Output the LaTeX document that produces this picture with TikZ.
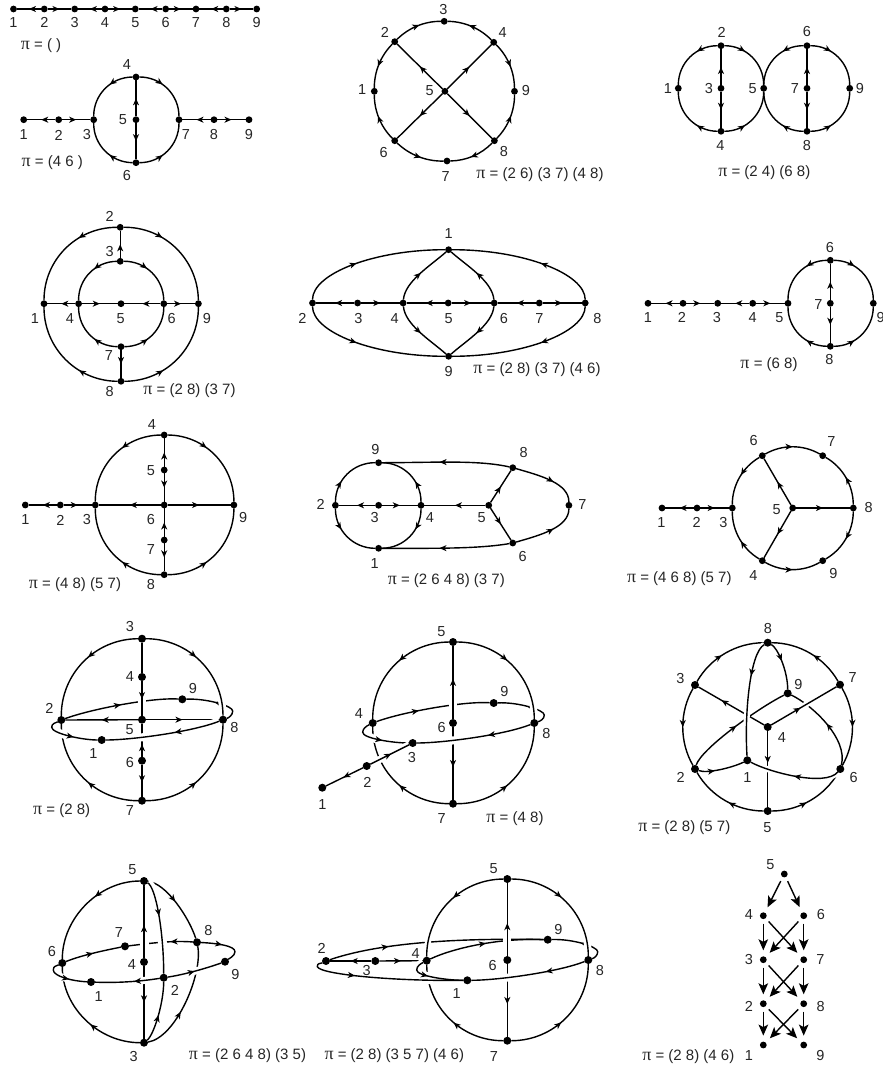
\documentclass[tikz,border=0pt]{standalone}
\usepackage{fontspec}
\setmainfont{Liberation Sans}
\newfontfamily\pisym[Scale=1.2]{Liberation Serif}
\usetikzlibrary{arrows.meta,decorations.markings}
\pgfdeclarelayer{edges}
\pgfsetlayers{edges,main}
\def\dsz{6.8pt}
\tikzset{
 dot/.style={circle,fill=black,inner sep=0pt,outer sep=0pt,minimum size=\dsz},
 lab/.style={inner sep=0pt,font=\fontsize{14.5}{16}\selectfont,text=black!85},
 plab/.style={inner sep=0pt,font=\fontsize{15}{17}\selectfont,text=black!85},
 ed/.style={line width=1.4pt,black},
 am/.style={postaction={decorate,decoration={markings,mark=at position #1 with {\arrow{Stealth[length=7pt,width=6pt,inset=2pt]}}}}},
 halo/.style={preaction={draw=white,line width=#1}},
 wipe/.style={draw=white,line width=#1},
 cw/.style={bend left=45},
 ccw/.style={bend right=45},
 cwa/.style={bend left=22.5,looseness=.885},
 ccwa/.style={bend right=22.5,looseness=.885},
 cwb/.style={bend left=30,looseness=.91},
 ccwb/.style={bend right=30,looseness=.91},
}
\newcommand\gV[6]{\node[dot] (#1) at (#2,#3) {}; \node[lab] (#1L) at (#4,#5) {#6};}
\newcommand\gP[4]{\node[plab] (#1) at (#2,#3) {{\pisym π} = #4};}
\newcommand\gS[3][.5]{\draw[ed,am=#1] (#2) -- (#3);}
\newcommand\gA[4][.4]{\draw[ed,am=#1] (#2) to[#4] (#3);}
\newcommand\gC[5][.5]{\draw[ed,am=#1] (#2) .. controls +(#3) and +(#4) .. (#5);}
\newcommand\gT[2]{\draw[ed,-{Stealth[length=11pt,width=9.5pt,inset=2.5pt]},shorten <=4.5pt,shorten >=6pt] (#1) -- (#2);}
\begin{document}
\begin{tikzpicture}[x=1pt,y=-1pt]
\useasboundingbox (0,0) rectangle (883,1068);
\begin{pgfonlayer}{edges}\fill[white] (0,0) rectangle (883,1068);\end{pgfonlayer}
% D1
\gV{a1}{13.5}{9}{13.5}{22.7}{1}\gV{a2}{44.3}{9}{44.3}{22.7}{2}\gV{a3}{74.7}{9}{74.7}{22.7}{3}
\gV{a4}{105}{9}{105}{22.7}{4}\gV{a5}{135.3}{9}{135.3}{22.7}{5}\gV{a6}{165.7}{9}{165.7}{22.7}{6}
\gV{a7}{196}{9}{196}{22.7}{7}\gV{a8}{226.3}{9}{226.3}{22.7}{8}\gV{a9}{256.7}{9}{256.7}{22.7}{9}
\gP{aP}{41}{46}{( )}
% D2
\gV{b1}{23.7}{119.7}{23.7}{135}{1}\gV{b2}{58.7}{119.7}{58.7}{135}{2}\gV{b3}{93.7}{119.7}{87}{135}{3}
\gV{b4}{136}{77}{127}{65}{4}\gV{b5}{136}{119.7}{123}{120}{5}\gV{b6}{136}{162.7}{127}{176}{6}
\gV{b7}{179}{119.7}{186}{135}{7}\gV{b8}{214}{119.7}{214}{135}{8}\gV{b9}{249}{119.7}{249}{135}{9}
\gP{bP}{52.3}{163}{(4 6 )}
% D3
\gV{c1}{374.3}{91.3}{362.2}{90}{1}\gV{c2}{394.7}{41.7}{385}{32.3}{2}\gV{c3}{444.2}{21.3}{443.5}{9.7}{3}
\gV{c4}{493.7}{42.3}{502.7}{32.3}{4}\gV{c5}{444.9}{91.3}{429.7}{91}{5}\gV{c6}{394.7}{140.7}{383.6}{152.3}{6}
\gV{c7}{447}{161}{445.6}{176.7}{7}\gV{c8}{494.4}{140.7}{503.8}{152}{8}\gV{c9}{514.5}{91.3}{526}{91}{9}
\gP{cP}{540}{174.7}{(2 6) (3 7) (4 8)}
% D4
\gV{d1}{678.3}{88.3}{668}{88.7}{1}\gV{d2}{721}{45.7}{721.7}{32}{2}\gV{d3}{721}{88.3}{709}{89}{3}
\gV{d4}{721}{131.3}{720.3}{146}{4}\gV{d5}{763.7}{88.3}{752.7}{89}{5}\gV{d6}{807}{45.7}{807}{32}{6}
\gV{d7}{807}{88.3}{795}{89}{7}\gV{d8}{807}{131.3}{807}{146}{8}\gV{d9}{849.7}{88.3}{860}{89}{9}
\gP{dP}{764.3}{173}{(2 4) (6 8)}
% D5
\gV{e1}{44}{303.7}{35}{318.3}{1}\gV{e2}{120.2}{227.3}{109.7}{216}{2}\gV{e3}{120.2}{261.3}{109.7}{251.7}{3}
\gV{e4}{78.6}{303.7}{70}{318.3}{4}\gV{e5}{121}{303.7}{120.6}{318.3}{5}\gV{e6}{163.8}{303.7}{171.6}{318.3}{6}
\gV{e7}{121}{346.7}{109}{356}{7}\gV{e8}{121}{381.3}{109.7}{391.7}{8}\gV{e9}{198.4}{303.7}{207}{318.3}{9}
\gP{eP}{189.5}{391}{(2 8) (3 7)}
% D6
\gV{f1}{448.6}{249.7}{448.6}{233.3}{1}\gV{f2}{312.5}{303}{302.3}{318.3}{2}\gV{f3}{357.6}{303}{358.4}{318.3}{3}
\gV{f4}{403.1}{303}{394.6}{318.3}{4}\gV{f5}{448.2}{303}{448.6}{318.3}{5}\gV{f6}{494.2}{303}{503.9}{318.3}{6}
\gV{f7}{539.3}{303}{539.3}{318.3}{7}\gV{f8}{585.2}{303}{597.3}{318.3}{8}\gV{f9}{448.6}{356.3}{448.6}{371.7}{9}
\gP{fP}{537}{370}{(2 8) (3 7) (4 6)}
% D7
\gV{g1}{648}{303.3}{648}{317.7}{1}\gV{g2}{683}{303.3}{682}{317.7}{2}\gV{g3}{717.7}{303.3}{717}{317.7}{3}
\gV{g4}{752.7}{303.3}{752.7}{317.7}{4}\gV{g5}{788}{303.3}{779.3}{317.7}{5}\gV{g6}{830.3}{260.3}{830}{247.3}{6}
\gV{g7}{830.3}{303.3}{818.3}{304.7}{7}\gV{g8}{830.3}{346.3}{829.3}{360}{8}\gV{g9}{873.3}{303.3}{880.7}{317.3}{9}
\gP{gP}{769}{365}{(6 8)}
% D8
\gV{h1}{25.3}{505}{25.3}{520}{1}\gV{h2}{60.3}{505}{60.3}{520}{2}\gV{h3}{95.3}{505}{86.8}{520}{3}
\gV{h4}{164.2}{435}{151.8}{424.3}{4}\gV{h5}{164.2}{470}{151}{471}{5}\gV{h6}{164.2}{505}{151}{520}{6}
\gV{h7}{164.2}{540}{151}{549.3}{7}\gV{h8}{164.2}{574.7}{151}{584.3}{8}\gV{h9}{233.9}{505}{243.2}{517.3}{9}
\gP{hP}{75}{584.3}{(4 8) (5 7)}
% D9
\gV{i1}{378.6}{548.3}{374.7}{563.3}{1}\gV{i2}{335.4}{505.3}{320.6}{504.3}{2}\gV{i3}{378.6}{505.3}{374.7}{517.3}{3}
\gV{i4}{421}{505.3}{430}{517.3}{4}\gV{i5}{488.7}{505.3}{481.7}{517.3}{5}\gV{i6}{512.8}{543}{522.6}{556.7}{6}
\gV{i7}{568.9}{505.3}{582.5}{504.3}{7}\gV{i8}{512.8}{467.7}{523.7}{452.7}{8}\gV{i9}{378.6}{462.7}{375.5}{450}{9}
\gP{iP}{446.3}{581}{(2 6 4 8) (3 7)}
% D11
\gV{j1}{662}{508}{661.3}{522.3}{1}\gV{j2}{697}{508}{696.7}{522.3}{2}\gV{j3}{732.3}{508}{723.3}{522.3}{3}
\gV{j4}{762.3}{560.7}{753.3}{575.3}{4}\gV{j5}{792.7}{508}{776.7}{509.3}{5}\gV{j6}{762.3}{455.7}{753.7}{441}{6}
\gV{j7}{822.7}{455.7}{831.3}{441.7}{7}\gV{j8}{853.3}{508}{868.7}{508}{8}\gV{j9}{822.7}{560.7}{833.3}{573.3}{9}
\gP{jP}{679.3}{578.7}{(4 6 8) (5 7)}
\def\dsz{8pt}
% D12
\gV{k1}{101.7}{740}{93.3}{754}{1}\gV{k2}{61.3}{720}{49.3}{708.7}{2}\gV{k3}{142}{638.7}{130}{626.7}{3}
\gV{k4}{142}{677}{130}{677}{4}\gV{k5}{142}{719.7}{129.7}{729.7}{5}\gV{k6}{142}{760.7}{130}{762.7}{6}
\gV{k7}{142}{800.7}{130}{810.7}{7}\gV{k8}{223}{719.7}{234.3}{727.7}{8}\gV{k9}{182.3}{699.3}{193}{688.7}{9}
\gP{kP}{61.7}{811}{(2 8)}
% D13
\gV{m1}{322.3}{787.7}{322.3}{805}{1}\gV{m2}{366.7}{766}{367.3}{782}{2}\gV{m3}{412.7}{743}{412}{757.3}{3}
\gV{m4}{372.7}{723}{359}{714}{4}\gV{m5}{453}{642}{441.3}{631.3}{5}\gV{m6}{453}{723}{441.7}{727.7}{6}
\gV{m7}{453}{803.7}{441.7}{819}{7}\gV{m8}{534.3}{723}{546.3}{733}{8}\gV{m9}{493.7}{703}{504.3}{691}{9}
\gP{mP}{515}{819}{(4 8)}
% D14
\gV{n1}{747.3}{760.3}{747.3}{777.3}{1}\gV{n2}{695}{769}{680.7}{777.3}{2}\gV{n3}{695}{685}{680.3}{678.3}{3}
\gV{n4}{767.7}{727}{782}{737.3}{4}\gV{n5}{767.7}{811}{767.3}{827.3}{5}\gV{n6}{840.3}{769}{853.7}{777}{6}
\gV{n7}{840}{684.7}{852.7}{677.7}{7}\gV{n8}{767.7}{642.7}{768}{628.3}{8}\gV{n9}{787.7}{693.3}{798.3}{684.7}{9}
\gP{nP}{684.3}{827.3}{(2 8) (5 7)}
% D15
\gV{o1}{91}{982}{98.7}{996.7}{1}\gV{o2}{163.7}{977.7}{175}{990}{2}\gV{o3}{144}{1042.7}{133.7}{1056.3}{3}
\gV{o4}{144}{962}{132}{965}{4}\gV{o5}{144}{881}{132.3}{869.3}{5}\gV{o6}{62.3}{963}{52}{951}{6}
\gV{o7}{125}{946.3}{119}{932.7}{7}\gV{o8}{197}{942.3}{208.3}{930}{8}\gV{o9}{225}{961.7}{235.3}{974}{9}
\gP{oP}{247.5}{1055.7}{(2 6 4 8) (3 5)}
% D16
\gV{p1}{467.3}{980.3}{456.7}{993.3}{1}\gV{p2}{326}{961}{321.7}{948.7}{2}\gV{p3}{375.3}{961}{366.7}{970.7}{3}
\gV{p4}{426.7}{960.7}{415.7}{953.3}{4}\gV{p5}{507.3}{879}{493.7}{868.3}{5}\gV{p6}{507.3}{960}{492.7}{965}{6}
\gV{p7}{507.3}{1040.7}{494}{1056}{7}\gV{p8}{588.3}{960}{600}{970}{8}\gV{p9}{547.7}{939.7}{558.3}{929}{9}
\gP{pP}{394.3}{1055.7}{(2 8) (3 5 7) (4 6)}
\def\dsz{6.8pt}
% D17
\gV{q1}{763.3}{1045}{749}{1055.7}{1}\gV{q2}{763.3}{1003.7}{749}{1006.7}{2}\gV{q3}{763.3}{959.7}{749}{959.7}{3}
\gV{q4}{763.3}{915.7}{749}{914.7}{4}\gV{q5}{784.3}{874}{770.3}{864.7}{5}\gV{q6}{803.7}{915.7}{821}{914}{6}
\gV{q7}{803.7}{959.7}{820.3}{959.7}{7}\gV{q8}{803.7}{1003.7}{820.7}{1006.7}{8}\gV{q9}{803.7}{1045}{820.3}{1055.7}{9}
\gP{qP}{688.3}{1056.7}{(2 8) (4 6)}

\begin{pgfonlayer}{edges}
% D1 edges
\gS{a2}{a1}\gS{a2}{a3}\gS{a4}{a3}\gS{a4}{a5}\gS{a6}{a5}\gS{a6}{a7}\gS{a8}{a7}\gS{a8}{a9}
% D2 edges
\gS{b2}{b1}\gS{b2}{b3}\gS{b8}{b7}\gS{b8}{b9}\gS{b5}{b4}\gS{b5}{b6}
\gA{b4}{b3}{ccw}\gA{b4}{b7}{cw}\gA{b6}{b3}{cw}\gA{b6}{b7}{ccw}
% D3 edges
\gA[.55]{c2}{c1}{ccwa}\gA[.55]{c2}{c3}{cwa}\gA[.55]{c4}{c3}{ccwa}\gA[.55]{c4}{c9}{cwa}
\gA[.55]{c6}{c1}{cwa}\gA[.55]{c6}{c7}{ccwa}\gA[.55]{c8}{c7}{cwa}\gA[.55]{c8}{c9}{ccwa}
\gS{c5}{c2}\gS{c5}{c4}\gS{c5}{c6}\gS{c5}{c8}
% D4 edges
\gA[.35]{d2}{d1}{ccw}\gA[.35]{d2}{d5}{cw}\gA[.35]{d4}{d1}{cw}\gA[.35]{d4}{d5}{ccw}
\gA[.35]{d6}{d5}{ccw}\gA[.35]{d6}{d9}{cw}\gA[.35]{d8}{d5}{cw}\gA[.35]{d8}{d9}{ccw}
\gS{d3}{d2}\gS{d3}{d4}\gS{d7}{d6}\gS{d7}{d8}
% D5 edges
\gA[.35]{e2}{e1}{ccw}\gA[.35]{e2}{e9}{cw}\gA[.35]{e8}{e1}{cw}\gA[.35]{e8}{e9}{ccw}
\gA{e3}{e4}{ccw}\gA{e3}{e6}{cw}\gA{e7}{e4}{cw}\gA{e7}{e6}{ccw}
\gS{e3}{e2}\gS{e7}{e8}\gS{e4}{e1}\gS{e4}{e5}\gS{e6}{e5}\gS{e6}{e9}
% D6 edges
\gS{f3}{f2}\gS{f3}{f4}\gS{f5}{f4}\gS{f5}{f6}\gS{f7}{f6}\gS{f7}{f8}
\gC[.4]{f2}{0,-29.3}{-75,0}{f1}\gC[.4]{f2}{0,29.3}{-75,0}{f9}
\gC[.4]{f8}{0,-29.3}{75,0}{f1}\gC[.4]{f8}{0,29.3}{75,0}{f9}
\gC{f4}{2,-22}{-18,16}{f1}\gC{f6}{-2,-22}{18,16}{f1}\gC{f4}{2,22}{-18,-16}{f9}\gC{f6}{-2,22}{18,-16}{f9}
% D7 edges
\gS{g2}{g1}\gS{g2}{g3}\gS{g4}{g3}\gS{g4}{g5}\gS{g7}{g6}\gS{g7}{g8}
\gA[.35]{g6}{g5}{ccw}\gA[.35]{g6}{g9}{cw}\gA[.35]{g8}{g5}{cw}\gA[.35]{g8}{g9}{ccw}
% D8 edges
\gS{h2}{h1}\gS{h2}{h3}\gS{h6}{h3}\gS{h6}{h9}\gS{h5}{h4}\gS{h5}{h6}\gS{h7}{h6}\gS{h7}{h8}
\gA{h4}{h3}{ccw}\gA{h4}{h9}{cw}\gA{h8}{h3}{cw}\gA{h8}{h9}{ccw}
% D9 edges
\gS{i3}{i2}\gS{i3}{i4}\gS{i5}{i4}\gS{i5}{i8}\gS{i5}{i6}
\gA[.35]{i2}{i9}{cw}\gA[.35]{i4}{i9}{ccw}\gA[.35]{i2}{i1}{ccw}\gA[.35]{i4}{i1}{cw}
\gC[.55]{i8}{-35,-8}{55,0}{i9}\gC[.55]{i6}{-35,6}{55,0}{i1}
\gC[.6]{i8}{28,8}{0,-22}{i7}\gC[.6]{i6}{28,-8}{0,22}{i7}
% D11 edges
\gS{j2}{j1}\gS{j2}{j3}\gS{j5}{j6}\gS{j5}{j8}\gS{j5}{j4}
\gA[.45]{j6}{j3}{ccwb}\gA[.45]{j4}{j3}{cwb}\gA[.5]{j6}{j7}{cwb}\gA[.5]{j8}{j7}{ccwb}\gA[.5]{j8}{j9}{cwb}\gA[.5]{j4}{j9}{ccwb}
% D12 edges
\gC[.5]{k2}{30,-11}{-30,-2}{k9}
\draw[ed,am=.52] (k8) .. controls +(6,-2) and +(0,4) .. (232.7,711) .. controls +(0,-5) and +(25,-1) .. (k9);
\draw[ed] (k3) -- (k4);
\draw[ed,halo=8pt,am=.52] (k4) -- (k5);
\draw[ed,halo=7pt,am=.45] (k3) to[cw] (k8);
\gA[.45]{k3}{k2}{ccw}\gA[.45]{k7}{k2}{cw}\gA[.45]{k7}{k8}{ccw}
\gS{k5}{k2}\gS{k5}{k8}
\gS[.38]{k6}{k5}\gS[.55]{k6}{k7}
\draw[ed,halo=8pt,am=.58] (k2) .. controls +(-6,3) and +(0,-4) .. (51.7,727.3) .. controls +(0,6) and +(-20,0) .. (k1);
\draw[ed,halo=8pt,am=.4] (k8) .. controls +(-30,12) and +(30,0) .. (k1);
% D13 edges
\gC[.38]{m4}{30,-11}{-30,-2}{m9}
\draw[ed,am=.5] (m8) .. controls +(6,-2) and +(0,4) .. (544.3,715) .. controls +(0,-5) and +(25,-1) .. (m9);
\draw[ed,halo=7pt,am=.45] (m5) to[cw] (m8);
\draw[ed,halo=7pt,am=.45] (m5) to[ccw] (m4);
\gA[.45]{m7}{m4}{cw}\gA[.45]{m7}{m8}{ccw}
\draw[ed,halo=8pt,am=.55] (m6) -- (m5);
\gS[.55]{m6}{m7}
\draw[ed,halo=8pt,am=.55] (m4) .. controls +(-6,3) and +(0,-4) .. (362.7,732.3) .. controls +(0,6) and +(-20,0) .. (m3);
\draw[ed,halo=8pt,am=.38] (m8) .. controls +(-30,12) and +(30,0) .. (m3);
\draw[ed,halo=7pt,am=.54] (m2) -- (m3);
\gS[.53]{m2}{m1}
% D14 edges
\gA[.45]{n3}{n8}{cwb}\gA[.45]{n7}{n8}{ccwb}\gA[.5]{n3}{n2}{ccwb}\gA[.5]{n7}{n6}{cwb}\gA[.45]{n5}{n2}{cwb}\gA[.45]{n5}{n6}{ccwb}
\gS[.65]{n4}{n3}
\gC[.5]{n2}{6,-20}{-30,15}{n9}
\gC[.5]{n6}{8,-30}{25,12}{n9}
\gS[.42]{n4}{n5}
\gC[.4]{n8}{10,5}{0,-22}{n9}
\gC[.35]{n2}{12,5}{-14,7}{n1}
\draw[ed,halo=6pt,am=.3] (n8) .. controls +(-18,10) and +(-3,-45) .. (n1);
\draw[ed,halo=6pt,am=.45] (n4) -- (n7);
\draw[ed,halo=6pt,am=.5] (n6) .. controls +(-15,18) and +(22,12) .. (n1);
% D15 edges
\gC{o6}{20,-8}{-20,4}{o7}
\gC[.35]{o8}{-25,-2}{25,-3}{o7}
\draw[ed,am=.45] (o8) .. controls +(20,1) and +(0,-6) .. (235,951.7) .. controls +(0,4) and +(4,-3) .. (o9);
\gC[.4]{o5}{-45,0}{0,-45}{o6}
\gC[.45]{o5}{22,2}{-8,-25}{o8}
\gC[.45]{o3}{-45,0}{0,45}{o6}
\gC[.4]{o3}{32,-5}{6,32}{o8}
\draw[ed,halo=9pt,am=.45] (o4) -- (o5);
\gS[.5]{o4}{o3}
\draw[ed,halo=9pt,am=.38] (o5) .. controls +(12,6) and +(0,-45) .. (o2);
\gC[.45]{o3}{10,-8}{0,25}{o2}
\draw[ed,halo=7pt,am=.6] (o6) .. controls +(-6,3) and +(0,-4) .. (53.3,970) .. controls +(0,6) and +(-20,-1) .. (o1);
\draw[ed,halo=7pt,am=.4] (o2) .. controls +(-25,4) and +(25,1) .. (o1);
\draw[ed,halo=7pt,am=.5] (o2) .. controls +(20,-3) and +(-20,7) .. (o9);
% D16 edges
\gS{p3}{p2}\gS{p3}{p4}
\gC[.28]{p2}{50,-17}{-100,-2}{p9}
\gC[.5]{p4}{25,-12}{-50,-2}{p9}
\draw[ed,am=.5] (p8) .. controls +(6,-2) and +(0,4) .. (597.7,951.7) .. controls +(0,-5) and +(25,-1) .. (p9);
\draw[ed,halo=8pt,am=.45] (p6) -- (p5);
\gS[.55]{p6}{p7}
\draw[ed,halo=6pt,am=.45] (p5) to[ccw] (p4);
\draw[ed,halo=7pt,am=.45] (p5) to[cw] (p8);
\gA[.45]{p7}{p4}{cw}\gA[.45]{p7}{p8}{ccw}
\draw[ed,halo=8pt,am=.35] (p8) .. controls +(-30,12) and +(30,0) .. (p1);
\path[wipe=8pt] (p2) .. controls +(-6,3) and +(0,-4) .. (317.3,966.7) .. controls +(3,8) and +(-70,1) .. (p1);
\path[wipe=8pt] (p4) .. controls +(-6,3) and +(0,-4) .. (416.7,970) .. controls +(0,6) and +(-20,0) .. (p1);
\draw[ed,am=.3] (p2) .. controls +(-6,3) and +(0,-4) .. (317.3,966.7) .. controls +(3,8) and +(-70,1) .. (p1);
\draw[ed,am=.4] (p4) .. controls +(-6,3) and +(0,-4) .. (416.7,970) .. controls +(0,6) and +(-20,0) .. (p1);
% D17 edges
\gT{q5}{q4}\gT{q5}{q6}\gT{q4}{q3}\gT{q4}{q7}\gT{q6}{q3}\gT{q6}{q7}
\gT{q3}{q2}\gT{q3}{q8}\gT{q7}{q2}\gT{q7}{q8}\gT{q2}{q1}\gT{q2}{q9}\gT{q8}{q1}\gT{q8}{q9}
\end{pgfonlayer}
\end{tikzpicture}
\end{document}
